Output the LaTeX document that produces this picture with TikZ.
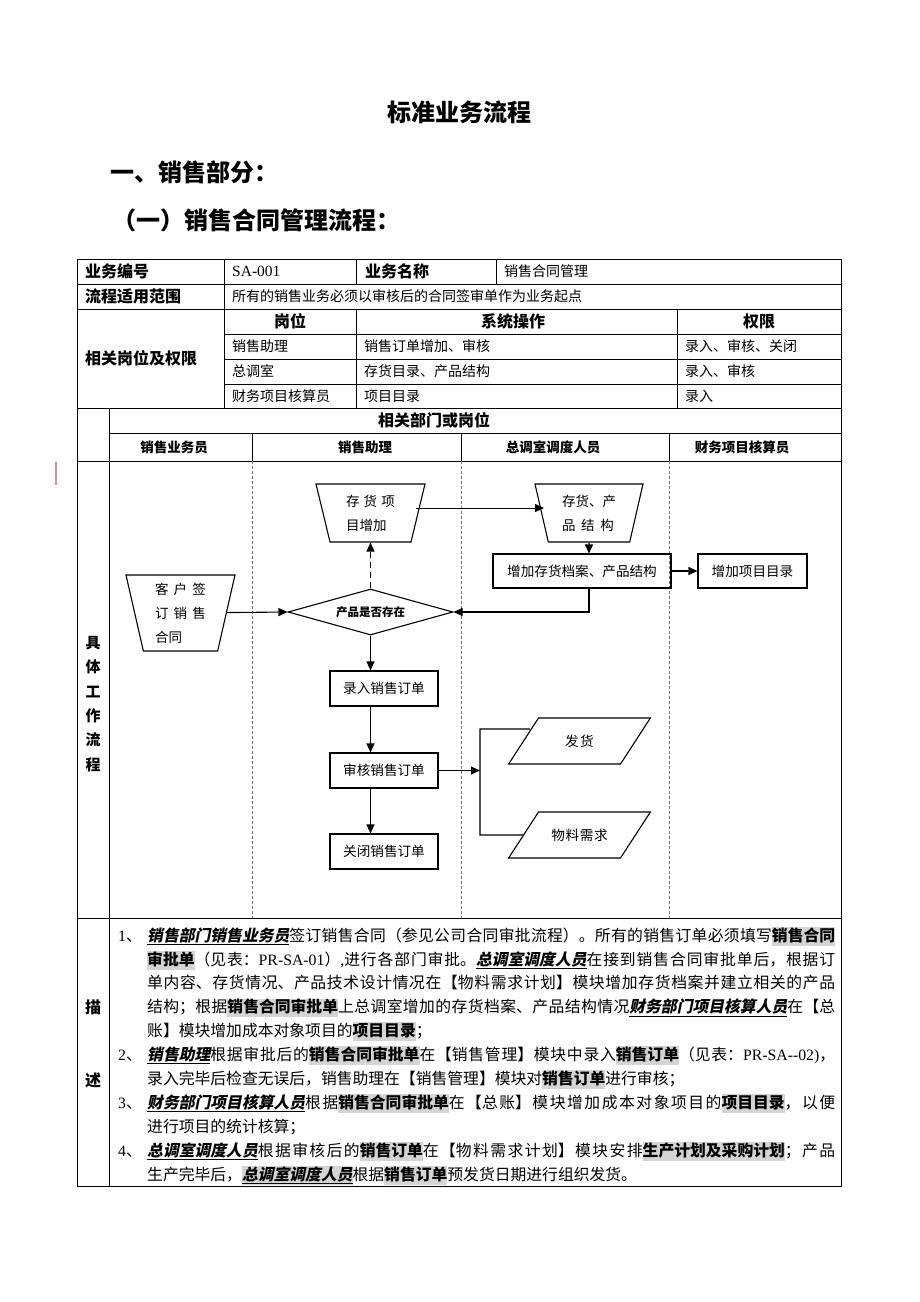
\documentclass[tikz,border=0pt]{standalone}
\usepackage{fontspec}
\setmainfont{Noto Sans CJK SC}
\newfontfamily\lat{Liberation Serif}
\newfontfamily\cjksl{Noto Sans CJK SC}[FakeSlant=0.2]
\usetikzlibrary{arrows.meta,shapes.geometric}
\definecolor{hlgray}{RGB}{212,212,212}
\definecolor{pinkmark}{RGB}{226,140,165}
\XeTeXlinebreaklocale "zh"
\XeTeXlinebreakskip=0pt plus 1.5pt
\setlength\parindent{0pt}
\newcommand\setfs[2]{\fontsize{#1}{#2}\selectfont}
\newcommand\nm[1]{\underline{{\cjksl\bfseries #1}}}
\newcommand\hl[1]{{\setlength\fboxsep{0pt}\colorbox{hlgray}{\vrule height 14pt depth 4.5pt width 0pt\bfseries #1}}}
\newcommand\spr[2]{\makebox[#1][s]{#2}}
\tikzset{
  grid/.style={line width=1pt, black},
  lanesep/.style={line width=0.7pt, black!55, dash pattern=on 3pt off 2pt},
  tb/.style={font=\setfs{14}{16}, inner sep=0pt, anchor=west},
  th/.style={font=\setfs{16}{18}\bfseries, inner sep=0pt},
  lh/.style={font=\setfs{13.5}{16}\bfseries, inner sep=0pt},
  box/.style={draw, line width=1.1pt, font=\setfs{13.6}{16}, minimum height=35pt, inner sep=0pt},
  trap/.style={draw, line width=1.1pt, trapezium, shape border rotate=180, trapezium stretches body, inner sep=0pt, font=\setfs{13.5}{24}, align=left},
  para/.style={draw, line width=1.1pt, trapezium, trapezium left angle=57, trapezium right angle=123, inner sep=0pt, text height=28.2pt, text depth=17.8pt, text width=82pt, align=center, font=\setfs{13.6}{16}},
  conn/.style={line width=1.1pt, -{Triangle[length=9pt,width=8pt]}},
  plain/.style={line width=1.1pt},
  desc/.style={text width=688pt, align=justify, inner sep=0pt, anchor=north west, font=\setfs{15.8}{23.8}},
  num/.style={inner sep=0pt, anchor=base west, font=\setfs{15.8}{23.8}}
}
\begin{document}
\begin{tikzpicture}[x=1pt,y=-1pt]
\useasboundingbox (0,0) rectangle (920,1302);
% titles
\node[font=\setfs{24}{28}\bfseries] (title) at (459,112) {标准业务流程};
\node[font=\setfs{24}{28}\bfseries, anchor=west, inner sep=0pt] (sec1) at (110,172) {一、销售部分：};
\node[font=\setfs{24}{28}\bfseries, anchor=west, inner sep=0pt] (sec2) at (112,220) {（一）销售合同管理流程：};
% pink mark
\draw[pinkmark, line width=1.4pt] (56,462) -- (56,485);
% table grid
\draw[grid] (77,259) rectangle (841,1186);
\foreach \y in {284,309,408,461,918} \draw[grid] (77,\y) -- (841,\y);
\foreach \y in {334,359,384} \draw[grid] (224,\y) -- (841,\y);
\draw[grid] (109,433) -- (841,433);
\draw[grid] (224,259) -- (224,408);
\draw[grid] (356,259) -- (356,284);
\draw[grid] (496,259) -- (496,284);
\draw[grid] (356,309) -- (356,408);
\draw[grid] (677,309) -- (677,408);
\draw[grid] (109,408) -- (109,1186);
\foreach \x in {252,461,669} \draw[grid] (\x,433) -- (\x,461);
\foreach \x in {252,461,669} \draw[lanesep] (\x,461) -- (\x,918);
% table texts
\node[th, anchor=west] (c11) at (85,271.5) {业务编号};
\node[tb, font=\lat\setfs{15.5}{18}] (c12) at (232,271.5) {SA-001};
\node[th, anchor=west] (c13) at (365,271.5) {业务名称};
\node[tb] (c14) at (504,271.5) {销售合同管理};
\node[th, anchor=west] (c21) at (85,296.5) {流程适用范围};
\node[tb] (c22) at (232,296.5) {所有的销售业务必须以审核后的合同签审单作为业务起点};
\node[th, anchor=west] (c31) at (85,358) {相关岗位及权限};
\node[th] (h1) at (290,321) {岗位};
\node[th] (h2) at (513,321) {系统操作};
\node[th] (h3) at (759,321) {权限};
\node[tb] (r1a) at (232,346) {销售助理};
\node[tb] (r1b) at (364,346) {销售订单增加、审核};
\node[tb] (r1c) at (685,346) {录入、审核、关闭};
\node[tb] (r2a) at (232,371) {总调室};
\node[tb] (r2b) at (364,371) {存货目录、产品结构};
\node[tb] (r2c) at (685,371) {录入、审核};
\node[tb] (r3a) at (232,396) {财务项目核算员};
\node[tb] (r3b) at (364,396) {项目目录};
\node[tb] (r3c) at (685,396) {录入};
\node[th] (dept) at (434,420) {相关部门或岗位};
\node[lh] (l1) at (174,447) {销售业务员};
\node[lh] (l2) at (365,447) {销售助理};
\node[lh] (l3) at (553,447) {总调室调度人员};
\node[lh] (l4) at (742,447) {财务项目核算员};
\node[font=\setfs{15}{24.4}\bfseries, align=center, inner sep=0pt] (jt) at (93,704) {具\\体\\工\\作\\流\\程};
% flow nodes
\node[trap, trapezium angle=69, minimum width=109pt, minimum height=58pt] (t1) at (370.5,513) {\spr{49pt}{存\hfil 货\hfil 项}\\目增加};
\node[trap, trapezium angle=74, minimum width=109pt, minimum height=76pt] (ct) at (180.5,613) {\spr{51pt}{客\hfil 户\hfil 签}\\\spr{51pt}{订\hfil 销\hfil 售}\\合同};
\node[trap, trapezium angle=70, minimum width=108pt, minimum height=58pt] (t2) at (589,513) {存货、产\\\spr{52pt}{品\hfil 结\hfil 构}};
\node[draw, diamond, aspect=3.6, minimum width=165pt, minimum height=46pt, inner sep=0pt, line width=1.1pt, font=\setfs{11.5}{14}\bfseries] (dia) at (370.5,612) {产品是否存在};
\node[box, minimum width=178pt, minimum height=34pt] (zj) at (582,571) {增加存货档案、产品结构};
\node[box, minimum width=109pt, minimum height=34pt] (xm) at (752.5,571) {增加项目目录};
\node[box, minimum width=108pt] (lr) at (384,688.5) {录入销售订单};
\node[box, minimum width=108pt] (sh) at (384,770.5) {审核销售订单};
\node[box, minimum width=108pt] (gb) at (384,851.5) {关闭销售订单};
\node[para] (fh) at (579.5,741) {发货};
\node[para] (wl) at (579.5,835) {物料需求};
% connectors
\coordinate (t1r) at (416,508);
\coordinate (t2l) at (544,508);
\draw[conn] (ct) -- (dia.west);
\draw[conn, dash pattern=on 6pt off 4pt] (dia) -- (t1);
\draw[line width=0.8pt, -{Triangle[length=9pt,width=8pt]}] (t1r) -- (t2l);
\draw[conn] (t2) -- (t2 |- zj.north);
\draw[conn] (zj) -- (xm);
\draw[conn] (t2 |- zj.south) |- (dia.east);
\draw[conn] (dia) -- (dia |- lr.north);
\draw[conn] (dia |- lr.south) -- (dia |- sh.north);
\draw[conn] (dia |- sh.south) -- (dia |- gb.north);
\coordinate (br) at (480,770.5);
\coordinate (brt) at (480,729);
\coordinate (brb) at (480,835);
\coordinate (fhin) at (530,729);
\draw[conn] (sh) -- (br);
\draw[plain] (fhin) -- (brt) -- (brb) -- (wl);
% description
\node[th] (m1) at (93,1007) {描};
\node[th] (m2) at (93,1080) {述};
\node[num] (n1) at (118,941) {{\lat 1}、};
\node[desc] (d1) at (147,924) {\vrule height 17pt depth 0pt width 0pt\nm{销售部门销售业务员}签订销售合同（参见公司合同审批流程）。所有的销售订单必须填写\hl{销售合同}\linebreak\hl{审批单}（见表：{\lat PR-SA-01}）{\lat ,}进行各部门审批。\nm{总调室调度人员}在接到销售合同审批单后，根据订\linebreak 单内容、存货情况、产品技术设计情况在【物料需求计划】模块增加存货档案并建立相关的产品\linebreak 结构；根据\hl{销售合同审批单}上总调室增加的存货档案、产品结构情况\nm{财务部门项目核算人员}在【总\linebreak 账】模块增加成本对象项目的\hl{项目目录}；};
\node[num] (n2) at (118,1060) {{\lat 2}、};
\node[desc] (d2) at (147,1043) {\vrule height 17pt depth 0pt width 0pt\nm{销售助理}根据审批后的\hl{销售合同审批单}在【销售管理】模块中录入\hl{销售订单}（见表：{\lat PR-SA-{}-02)}，\linebreak 录入完毕后检查无误后，销售助理在【销售管理】模块对\hl{销售订单}进行审核；};
\node[num] (n3) at (118,1108) {{\lat 3}、};
\node[desc] (d3) at (147,1091) {\vrule height 17pt depth 0pt width 0pt\nm{财务部门项目核算人员}根据\hl{销售合同审批单}在【总账】模块增加成本对象项目的\hl{项目目录}，以便\linebreak 进行项目的统计核算；};
\node[num] (n4) at (118,1156) {{\lat 4}、};
\node[desc] (d4) at (147,1139) {\vrule height 17pt depth 0pt width 0pt\nm{总调室调度人员}根据审核后的\hl{销售订单}在【物料需求计划】模块安排\hl{生产计划及采购计划}；产品\linebreak 生产完毕后，\hl{\nm{总调室调度人员}}根据\hl{销售订单}预发货日期进行组织发货。};
\end{tikzpicture}
\end{document}
